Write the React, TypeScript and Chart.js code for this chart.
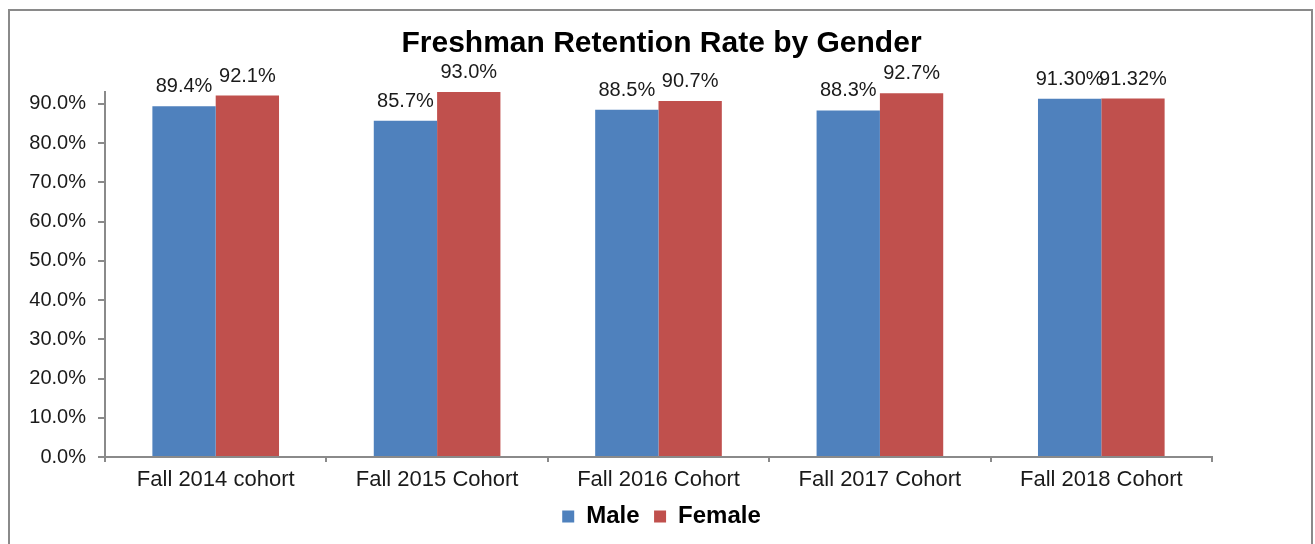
import React, { useEffect, useRef } from "react";
import { Chart, registerables } from "chart.js";

Chart.register(...registerables);

const categories = [
  "Fall 2014 cohort",
  "Fall 2015 Cohort",
  "Fall 2016 Cohort",
  "Fall 2017 Cohort",
  "Fall 2018 Cohort",
];
const maleValues = [89.4, 85.7, 88.5, 88.3, 91.3];
const femaleValues = [92.1, 93.0, 90.7, 92.7, 91.32];
const labelDecimals = [1, 1, 1, 1, 2];
const seriesNames = ["Male", "Female"];
const seriesColors = ["#4F81BD", "#C0504D"];
const chartTitle = "Freshman Retention Rate by Gender";
const yMin = 0;
const yMax = 93;
const yStep = 10;

const FONT = '"Liberation Sans", Arial, Helvetica, sans-serif';
const AXIS_GRAY = "#8a8a8a";

const valueLabelPlugin = {
  id: "valueLabels",
  afterDatasetsDraw(chart: any) {
    const ctx = chart.ctx;
    ctx.save();
    ctx.font = `20px ${FONT}`;
    ctx.fillStyle = "#1a1a1a";
    ctx.textAlign = "center";
    ctx.textBaseline = "alphabetic";
    chart.data.datasets.forEach((ds: any, di: number) => {
      const meta = chart.getDatasetMeta(di);
      meta.data.forEach((bar: any, i: number) => {
        const v = ds.data[i] as number;
        ctx.fillText(v.toFixed(labelDecimals[i]) + "%", bar.x, bar.y - 14);
      });
    });
    ctx.restore();
  },
};

export default function App() {
  const canvasRef = useRef<HTMLCanvasElement | null>(null);

  useEffect(() => {
    document.body.style.overflow = "hidden";
    document.documentElement.style.overflow = "hidden";
    const canvas = canvasRef.current;
    if (!canvas) return;
    const chart = new Chart(canvas, {
      type: "bar",
      data: {
        labels: categories,
        datasets: [
          {
            label: seriesNames[0],
            data: maleValues,
            backgroundColor: seriesColors[0],
            borderWidth: 0,
            categoryPercentage: 0.572,
            barPercentage: 1.0,
          },
          {
            label: seriesNames[1],
            data: femaleValues,
            backgroundColor: seriesColors[1],
            borderWidth: 0,
            categoryPercentage: 0.572,
            barPercentage: 1.0,
          },
        ],
      },
      options: {
        responsive: false,
        animation: false,
        devicePixelRatio: 1,
        layout: { padding: { left: 8, right: 0, top: 0, bottom: 5.5 } },
        plugins: {
          tooltip: { enabled: false },
          title: {
            display: true,
            text: chartTitle,
            color: "#000",
            font: { family: FONT, size: 30, weight: "bold" },
            padding: { top: 26, bottom: 30 },
          },
          legend: {
            display: true,
            position: "bottom",
            labels: {
              color: "#000",
              font: { family: FONT, size: 24, weight: "bold" },
              boxWidth: 12,
              boxHeight: 12,
              padding: 14.5,
            },
          },
        },
        scales: {
          x: {
            type: "category",
            grid: {
              display: true,
              offset: true,
              drawOnChartArea: false,
              drawTicks: true,
              tickLength: 5,
              color: AXIS_GRAY,
              lineWidth: 2,
            },
            border: { display: true, color: AXIS_GRAY, width: 2 },
            ticks: {
              color: "#1a1a1a",
              font: { family: FONT, size: 22 },
              padding: 5,
              maxRotation: 0,
              autoSkip: false,
            },
            afterFit(s: any) {
              s.height = 33;
            },
          },
          y: {
            type: "linear",
            position: "left",
            min: yMin,
            max: yMax,
            grid: {
              display: true,
              drawOnChartArea: false,
              drawTicks: true,
              tickLength: 7,
              color: AXIS_GRAY,
              lineWidth: 2,
            },
            border: { display: true, color: AXIS_GRAY, width: 2 },
            ticks: {
              stepSize: yStep,
              includeBounds: false,
              color: "#1a1a1a",
              font: { family: FONT, size: 20 },
              padding: 12,
              callback: (v: any) => Number(v).toFixed(1) + "%",
            },
            afterFit(s: any) {
              s.width = 97;
            },
          },
          y2: {
            type: "linear",
            position: "right",
            display: true,
            grid: { display: false },
            border: { display: false },
            ticks: { display: false },
            afterFit(s: any) {
              s.width = 103;
            },
          },
        },
      },
      plugins: [valueLabelPlugin],
    } as any);
    return () => chart.destroy();
  }, []);

  return (
    <div>
      <div
        style={{
          position: "fixed",
          left: 8,
          top: 9,
          width: 1305,
          height: 600,
          boxSizing: "border-box",
          border: `2px solid ${AXIS_GRAY}`,
          pointerEvents: "none",
        }}
      />
      <canvas
        ref={canvasRef}
        width={1315}
        height={544}
        style={{ position: "fixed", left: 0, top: 0, width: "1315px", height: "544px" }}
      />
    </div>
  );
}
